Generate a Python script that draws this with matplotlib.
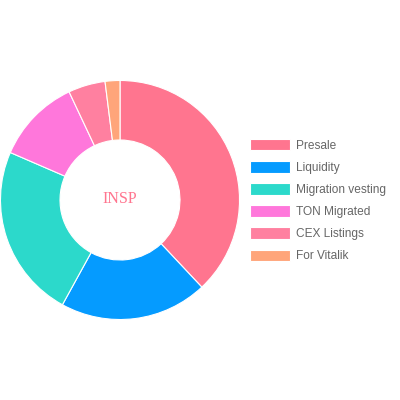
import matplotlib
matplotlib.use("Agg")
import matplotlib.pyplot as plt

labels = ["Presale", "Liquidity", "Migration vesting", "TON Migrated", "CEX Listings", "For Vitalik"]
shares = [38, 20, 23.5, 11.5, 5, 2]
colors = ["#FF758F", "#059BFF", "#2CD9CB", "#FF77DB", "#FF80A0", "#FFA57A"]
center_label = "INSP"

fig = plt.figure(figsize=(4, 4), dpi=100)
ax = fig.add_axes([0.0, 0.2, 0.6, 0.6])

wedges, _ = ax.pie(shares, colors=colors, startangle=90, counterclock=False,
                   radius=0.996, wedgeprops=dict(width=0.496, edgecolor="white", linewidth=0.8))
ax.set_xlim(-1, 1)
ax.set_ylim(-1, 1)
ax.set_aspect("equal")

ax.text(0, 0.01, center_label, ha="center", va="center", fontsize=11.5,
        family="Liberation Serif", color="#FF758F")

fig.legend(wedges, labels, loc="upper left", bbox_to_anchor=(250 / 400, 1 - 139 / 400),
           frameon=False, borderpad=0, borderaxespad=0, handlelength=3.33, handleheight=1.1,
           handletextpad=0.55, labelspacing=0.78,
           prop={"family": "Liberation Sans", "size": 8.6}, labelcolor="#666666")

plt.savefig("out.png", dpi=100)
